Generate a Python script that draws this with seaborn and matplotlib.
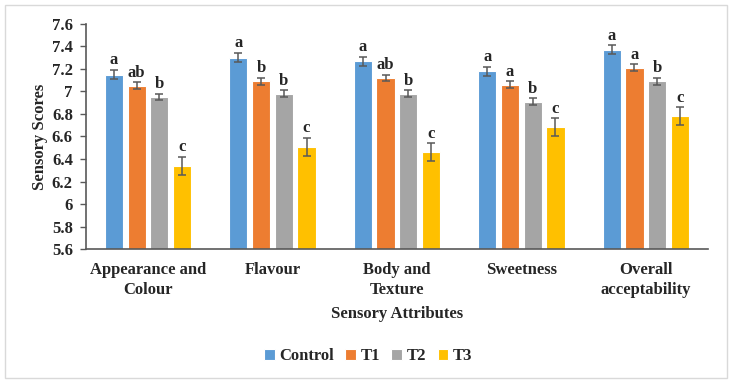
import numpy as np
import pandas as pd
import matplotlib.pyplot as plt
import seaborn as sns
from matplotlib.patches import Rectangle

attributes = ["Appearance and\nColour", "Flavour", "Body and\nTexture", "Sweetness", "Overall\nacceptability"]
treatments = ["Control", "T1", "T2", "T3"]
control = [7.15, 7.30, 7.27, 7.18, 7.37]
t1 = [7.05, 7.09, 7.12, 7.06, 7.21]
t2 = [6.95, 6.98, 6.98, 6.91, 7.09]
t3 = [6.34, 6.51, 6.46, 6.68, 6.78]
err_control = [0.04, 0.04, 0.04, 0.04, 0.04]
err_t1 = [0.03, 0.03, 0.03, 0.03, 0.03]
err_t2 = [0.03, 0.03, 0.03, 0.03, 0.03]
err_t3 = [0.08, 0.08, 0.08, 0.08, 0.08]
letters_control = ["a", "a", "a", "a", "a"]
letters_t1 = ["ab", "b", "ab", "a", "a"]
letters_t2 = ["b", "b", "b", "b", "b"]
letters_t3 = ["c", "c", "c", "c", "c"]

colors = ["#5b9bd5", "#ed7d31", "#a5a5a5", "#ffc000"]

rows = []
for t, vals, errs, lets in zip(treatments, [control, t1, t2, t3],
                               [err_control, err_t1, err_t2, err_t3],
                               [letters_control, letters_t1, letters_t2, letters_t3]):
    for a, v, e, l in zip(attributes, vals, errs, lets):
        rows.append({"attr": a, "treat": t, "score": v, "err": e, "letter": l})
df = pd.DataFrame(rows)

sns.set_theme(style="white")
plt.rcParams["font.family"] = ["Liberation Serif", "DejaVu Serif"]
plt.rcParams["font.weight"] = "bold"

fig = plt.figure(figsize=(7.33, 3.85), dpi=100)
ax = fig.add_axes([0.117, 0.353, 0.849, 0.585])

sns.barplot(data=df, x="attr", y="score", hue="treat", palette=colors,
            width=0.73, gap=0.2, errorbar=None, ax=ax, edgecolor="white",
            linewidth=0.8, saturation=1)

# bars come per hue in order
for patch, (_, r) in zip(ax.patches, df.iterrows()):
    x = patch.get_x() + patch.get_width() / 2
    ax.errorbar(x, r["score"], yerr=r["err"], color="#595959", capsize=2.7,
                elinewidth=1.1, capthick=1.1)
    ax.text(x, r["score"] + r["err"] + 0.015, r["letter"], ha="center", va="bottom",
            fontsize=12, fontweight="bold")

ax.set_ylim(5.6, 7.6)
ax.set_xlim(-0.5, 4.5)
yt = np.arange(5.6, 7.61, 0.2)
ax.set_yticks(yt)
ax.set_yticklabels([f"{v:g}" for v in np.round(yt, 1)], fontsize=12, fontweight="bold")
ax.set_xticks(range(5))
ax.set_xticklabels(attributes, fontsize=12, fontweight="bold", linespacing=1.35)
ax.set_xticks(np.arange(-0.5, 4.6, 1), minor=True)
ax.tick_params(axis="x", which="major", length=0, pad=9)
ax.tick_params(axis="x", which="minor", length=5, color="#595959", width=1)
ax.tick_params(axis="y", length=4.3, color="#595959", width=1, left=True, pad=5)
for s in ["top", "right"]:
    ax.spines[s].set_visible(False)
for s in ["left", "bottom"]:
    ax.spines[s].set_color("#595959")
    ax.spines[s].set_linewidth(1.2)

ax.set_ylabel("Sensory Scores", fontsize=12, fontweight="bold", labelpad=3)
ax.set_xlabel("Sensory Attributes", fontsize=12, fontweight="bold", labelpad=6)

handles, labels = ax.get_legend_handles_labels()
ax.legend_.remove()
fig.legend(handles, labels, loc="center", bbox_to_anchor=(0.502, 0.075), ncol=4,
           frameon=False, prop={"size": 12, "weight": "bold"}, handlelength=0.65,
           handleheight=0.65, handletextpad=0.25, columnspacing=0.7)

fig.patches.append(Rectangle((0.007, 0.018), 0.985, 0.969, transform=fig.transFigure,
                             fill=False, edgecolor="#d9d9d9", linewidth=1))

fig.savefig("out.png", dpi=100)
